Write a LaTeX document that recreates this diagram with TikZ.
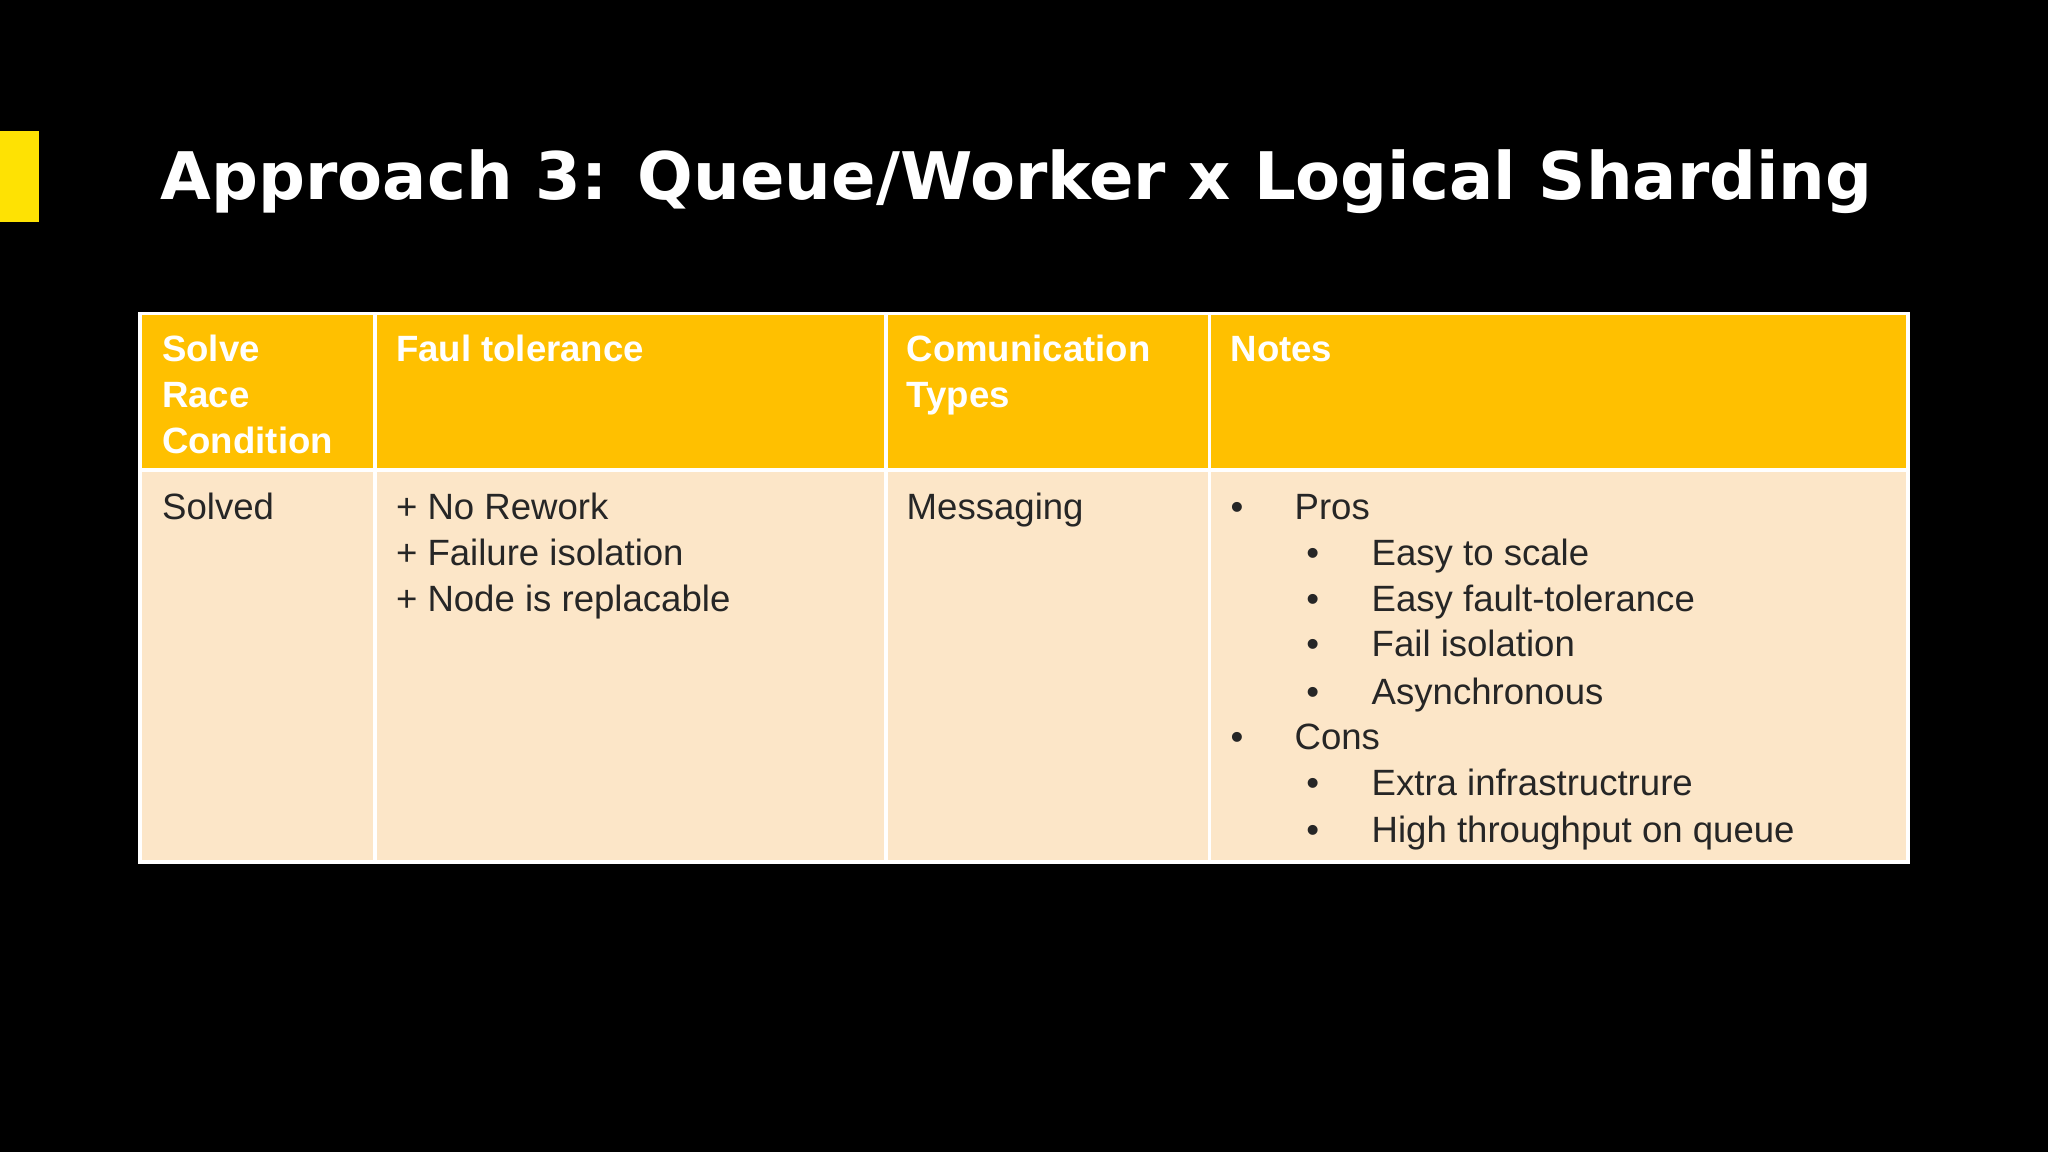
\documentclass[tikz,border=0pt]{standalone}
\usepackage{fontspec}
\setmainfont{Liberation Sans}
\begin{document}
\begin{tikzpicture}[x=1pt,y=-1pt,
  hd/.style={anchor=base west,inner sep=0,text=white,font=\fontsize{28}{28}\selectfont\bfseries},
  bd/.style={anchor=base west,inner sep=0,text=black!85,font=\fontsize{28}{28}\selectfont},
  grid/.style={white,line width=3pt}]
\fill[black] (0,0) rectangle (1568,882);
\useasboundingbox (0,0) rectangle (1568,882);
\fill[yellow!85!orange] (0,100) rectangle (30,170);
\node[anchor=base west,inner sep=0,text=white] (title) at (123,153)
  {\resizebox{1310pt}{!}{\fontspec{DejaVu Sans}\bfseries Approach 3: Queue/Worker x Logical Sharding}};
\fill[fill={rgb,255:red,255;green,192;blue,0}] (107,240) rectangle (1461,360);
\fill[fill={rgb,255:red,252;green,230;blue,200}] (107,360) rectangle (1461,660);
\draw[grid] (107,240) rectangle (1461,660);
\draw[grid] (107,360) -- (1461,360);
\foreach \x in {287,678,926} \draw[grid] (\x,240) -- (\x,660);
\node[hd] (h1a) at (124,277) {Solve};
\node[hd] (h1b) at (124,312) {Race};
\node[hd] (h1c) at (124,347) {Condition};
\node[hd] (h2) at (303,277) {Faul tolerance};
\node[hd] (h3a) at (694,277) {Comunication};
\node[hd] (h3b) at (694,312) {Types};
\node[hd] (h4) at (942,277) {Notes};
\node[bd] (b1) at (124,398) {Solved};
\node[bd] (b2a) at (303,398) {+ No Rework};
\node[bd] (b2b) at (303,433) {+ Failure isolation};
\node[bd] (b2c) at (303,468) {+ Node is replacable};
\node[bd] (b3) at (694,398) {Messaging};
\node[bd] (p0) at (942,398) {•};
\node[bd] (p) at (991,398) {Pros};
\foreach \t/\y [count=\i] in {Easy to scale/433,Easy fault-tolerance/468,Fail isolation/503,Asynchronous/539}{
  \node[bd] (pb\i) at (1000,\y) {•};
  \node[bd] (pt\i) at (1050,\y) {\t};}
\node[bd] (c0) at (942,574) {•};
\node[bd] (c) at (991,574) {Cons};
\foreach \t/\y [count=\i] in {Extra infrastructrure/609,High throughput on queue/645}{
  \node[bd] (cb\i) at (1000,\y) {•};
  \node[bd] (ct\i) at (1050,\y) {\t};}
\end{tikzpicture}
\end{document}
